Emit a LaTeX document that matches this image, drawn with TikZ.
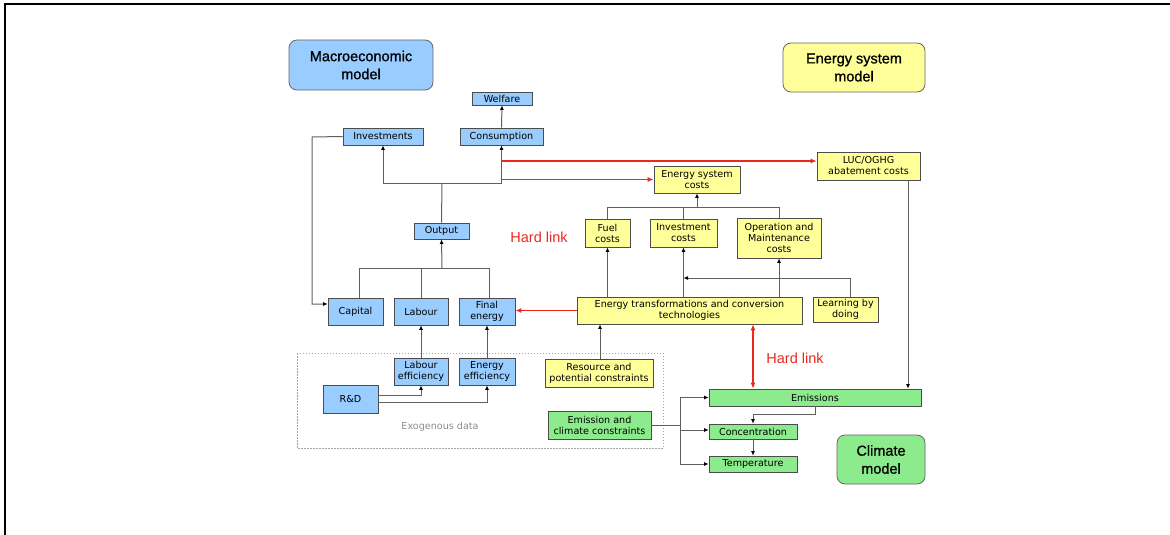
\documentclass[tikz,border=0pt]{standalone}
\usepackage{fontspec}
\setmainfont{DejaVu Sans}
\newfontfamily\bigfont[FakeBold=1]{Liberation Sans}
\newfontfamily\hardfont{Liberation Sans}
\usetikzlibrary{arrows.meta}
\definecolor{mblue}{RGB}{153,204,255}
\definecolor{myellow}{RGB}{255,255,153}
\definecolor{mgreen}{RGB}{140,235,140}
\definecolor{linegrey}{RGB}{95,95,95}
\definecolor{hred}{RGB}{235,40,30}
\begin{document}
\begin{tikzpicture}[x=1pt,y=-1pt,
 box/.style={draw=black!70, line width=0.7pt, inner sep=0pt, align=center, font=\fontsize{9.6}{11}\selectfont},
 bluebox/.style={box, fill=mblue},
 yelbox/.style={box, fill=myellow},
 grnbox/.style={box, fill=mgreen},
 model/.style={draw=black!60, line width=0.8pt, rounded corners=8pt, inner sep=0pt, align=center, font=\bigfont\fontsize{14.5}{18}\selectfont},
 con/.style={draw=linegrey, line width=1pt},
 arr/.style={con, -{Latex[length=4.5pt,width=4pt,color=black]}},
 redarr/.style={draw=hred, line width=1.7pt, -{Latex[length=6pt,width=5pt]}},
 hard/.style={text=hred, font=\hardfont\fontsize{14.5}{17}\selectfont},
]
\useasboundingbox (0,0) rectangle (1170,535);
% frame
\draw[line width=2pt] (5,535) -- (5,4) -- (1170,4);

% exogenous dotted area
\draw[draw=black!35, line width=1pt, dash pattern=on 1.5pt off 1.5pt] (297,353) rectangle (663,448);
\node[text=black!45, font=\fontsize{9.6}{11}\selectfont] (exo) at (440,427) {Exogenous data};

% model labels
\node[model, fill=mblue, minimum width=144pt, minimum height=50pt] (macro) at (361,65) {Macroeconomic\\model};
\node[model, fill=myellow, minimum width=142pt, minimum height=49pt] (esm) at (854,67.5) {Energy system\\model};
\node[model, fill=mgreen, minimum width=88pt, minimum height=49pt] (clim) at (881,459.5) {Climate\\model};

% blue boxes
\node[bluebox, minimum width=60pt, minimum height=13pt] (welfare) at (502,98.5) {Welfare};
\node[bluebox, minimum width=80pt, minimum height=17pt] (invest) at (383,136.5) {Investments};
\node[bluebox, minimum width=83pt, minimum height=17pt] (consump) at (501.5,136.5) {Consumption};
\node[bluebox, minimum width=55pt, minimum height=16pt] (output) at (441.5,231) {Output};
\node[bluebox, minimum width=55pt, minimum height=27pt] (capital) at (355.5,311.5) {Capital};
\node[bluebox, minimum width=54pt, minimum height=27pt] (labour) at (421,311.5) {Labour};
\node[bluebox, minimum width=56pt, minimum height=27pt] (final) at (487,311.5) {Final\\energy};
\node[bluebox, minimum width=54pt, minimum height=27pt] (labeff) at (421,371.5) {Labour\\efficiency};
\node[bluebox, minimum width=56pt, minimum height=27pt] (eneff) at (487,371.5) {Energy\\efficiency};
\node[bluebox, minimum width=55pt, minimum height=28pt] (rd) at (350.5,399) {R\&D};

% yellow boxes
\node[yelbox, minimum width=86pt, minimum height=27pt] (esc) at (697,179.5) {Energy system\\costs};
\node[yelbox, minimum width=45pt, minimum height=28pt] (fuel) at (607.5,233) {Fuel\\costs};
\node[yelbox, minimum width=67pt, minimum height=28pt] (invc) at (683.5,233) {Investment\\costs};
\node[yelbox, minimum width=84pt, minimum height=40pt] (om) at (779,238) {Operation and\\Maintenance\\costs};
\node[yelbox, minimum width=225pt, minimum height=27pt] (etct) at (689.5,310.5) {Energy transformations and conversion\\technologies};
\node[yelbox, minimum width=65pt, minimum height=25pt] (learn) at (845.5,309.5) {Learning by\\doing};
\node[yelbox, minimum width=103pt, minimum height=28pt] (luc) at (868.5,166) {LUC/OGHG\\abatement costs};
\node[yelbox, minimum width=108pt, minimum height=28pt] (res) at (599,373) {Resource and\\potential constraints};

% green boxes
\node[grnbox, minimum width=103pt, minimum height=28pt] (emcc) at (599.5,425) {Emission and\\climate constraints};
\node[grnbox, minimum width=212pt, minimum height=17pt] (emis) at (815,397.5) {Emissions};
\node[grnbox, minimum width=88pt, minimum height=15pt] (conc) at (753,431.5) {Concentration};
\node[grnbox, minimum width=88pt, minimum height=16pt] (temp) at (753,464) {Temperature};

% hard link labels
\node[hard] (hl1) at (539,237) {Hard link};
\node[hard] (hl2) at (795,358) {Hard link};

% macro connectors
\draw[arr] (consump.north) -- (welfare.south);
\coordinate (kc) at (312,137);
\draw[arr] (invest.west) -- (kc) |- ([yshift=7.5pt]capital.west);
\coordinate (jo) at (442,268);
\draw[con] ([xshift=3.5pt]capital.north) |- (jo);
\draw[con] (labour.north) -- (labour.north |- jo);
\draw[con] ([xshift=2pt]final.north) |- (jo);
\draw[arr] (jo) -- (output.south);
\coordinate (jt) at (442,183);
\draw[con] (output.north) -- (jt);
\draw[arr] (jt) -| (invest.south);
\draw[arr] (jt) -| (consump.south);
\draw[arr] (labeff.north) -- (labour.south);
\draw[arr] (eneff.north) -- (final.south);
\draw[arr] ([yshift=4pt]rd.east) -| (labeff.south);
\draw[arr] ([yshift=-3pt]rd.east) -| (eneff.south);

% red links
\coordinate (r1) at (502,161);
\coordinate (r2) at (502,179.5);
\draw[redarr] (r1) -- ([yshift=5pt]luc.west);
\draw[redarr] (r2) -- (esc.west);
\draw[redarr] (etct.west) -- (final.east |- etct.west);
\draw[draw=hred, line width=1.7pt, {Latex[length=6pt,width=5pt]}-{Latex[length=6pt,width=5pt]}] (conc.north |- etct.south) -- (conc.north |- emis.north);

% energy connectors
\coordinate (je) at (697,207);
\draw[con] (fuel.north) |- (je);
\draw[con] (invc.north) -- (invc.north |- je);
\draw[con] (om.north) |- (je);
\draw[arr] (je) -- (esc.south);
\draw[arr] (fuel.south |- etct.north) -- (fuel.south);
\draw[arr] (invc.south |- etct.north) -- (invc.south);
\draw[arr] (om.south |- etct.north) -- (om.south);
\coordinate (lj) at (683.5,278);
\draw[arr] ([xshift=4.5pt]learn.north) |- (lj);
\draw[arr] ([xshift=1pt]res.north) -- ([xshift=1pt]res.north |- etct.south);
\draw[arr] ([xshift=39.5pt]luc.south) -- ([xshift=39.5pt]luc.south |- emis.north);

% climate connectors
\coordinate (sp) at (680,425);
\draw[con] (emcc.east) -- (sp);
\draw[arr] (sp) |- (emis.west);
\draw[arr] (sp) |- ([yshift=1.5pt]conc.west);
\draw[arr] (sp) |- (temp.west);
\draw[arr] (emis.south) -- ++(0,8) -| (conc.north);
\draw[arr] (conc.south) -- (temp.north);
\end{tikzpicture}
\end{document}
